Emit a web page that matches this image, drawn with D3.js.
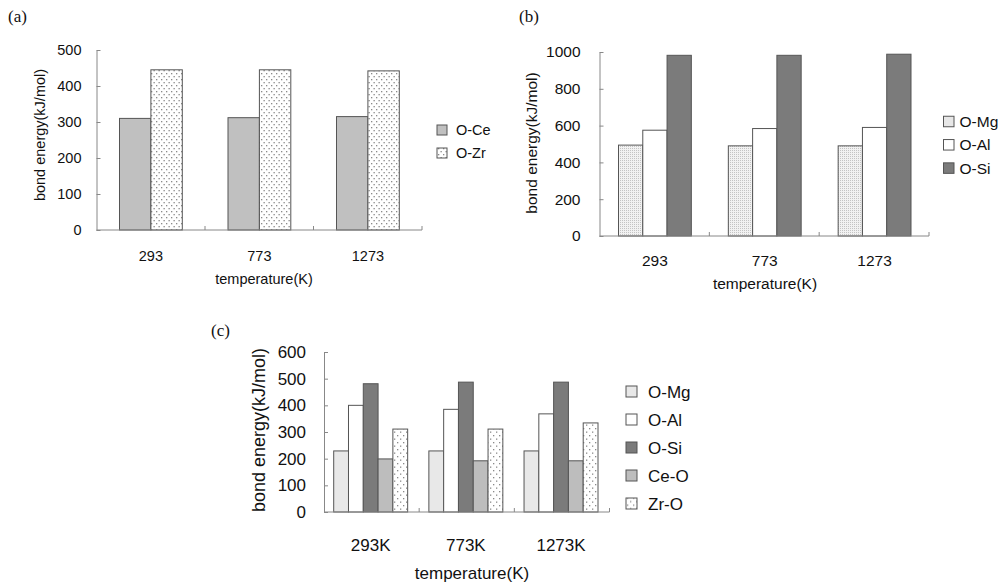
<!DOCTYPE html>
<html>
<head>
<meta charset="utf-8">
<script src="https://cdn.jsdelivr.net/npm/d3@7"></script>
<style>
  body { margin: 0; background: #fff; }
  svg { display: block; }
  text { font-family: "Liberation Sans", Arial, sans-serif; fill: #111; }
  .title { font-family: "Liberation Serif", "DejaVu Serif", serif; }
</style>
</head>
<body>
<svg id="chart" width="1000" height="586"></svg>
<script>
// panel (a)
var catsA = ["293", "773", "1273"];
var seriesA = ["O-Ce", "O-Zr"];
var oCeA = [310, 312, 315];
var oZrA = [445, 445, 442];
var ticksA = [0, 100, 200, 300, 400, 500];

// panel (b)
var catsB = ["293", "773", "1273"];
var seriesB = ["O-Mg", "O-Al", "O-Si"];
var oMgB = [494, 490, 490];
var oAlB = [575, 584, 590];
var oSiB = [982, 982, 988];
var ticksB = [0, 200, 400, 600, 800, 1000];

// panel (c)
var catsC = ["293K", "773K", "1273K"];
var seriesC = ["O-Mg", "O-Al", "O-Si", "Ce-O", "Zr-O"];
var oMgC = [229, 229, 229];
var oAlC = [400, 385, 368];
var oSiC = [481, 487, 487];
var ceOC = [199, 192, 192];
var zrOC = [311, 311, 334];
var ticksC = [0, 100, 200, 300, 400, 500, 600];

var svg = d3.select("#chart");
var defs = svg.append("defs");

// dotted pattern (Zr)
var dots = defs.append("pattern").attr("id", "dots")
    .attr("patternUnits", "userSpaceOnUse").attr("width", 5).attr("height", 6);
dots.append("rect").attr("width", 5).attr("height", 6).attr("fill", "#fff");
dots.append("rect").attr("x", 1).attr("y", 1).attr("width", 1.3).attr("height", 1.3).attr("fill", "#8a8a8a");
dots.append("rect").attr("x", 3.5).attr("y", 4).attr("width", 1.3).attr("height", 1.3).attr("fill", "#8a8a8a");

var dotsC = defs.append("pattern").attr("id", "dotsC")
    .attr("patternUnits", "userSpaceOnUse").attr("width", 6).attr("height", 7);
dotsC.append("rect").attr("width", 6).attr("height", 7).attr("fill", "#fff");
dotsC.append("rect").attr("x", 1).attr("y", 1).attr("width", 1.3).attr("height", 1.3).attr("fill", "#8a8a8a");
dotsC.append("rect").attr("x", 4).attr("y", 4.5).attr("width", 1.3).attr("height", 1.3).attr("fill", "#8a8a8a");

// fine stipple (O-Mg in b)
var stip = defs.append("pattern").attr("id", "stip")
    .attr("patternUnits", "userSpaceOnUse").attr("width", 2).attr("height", 2);
stip.append("rect").attr("width", 2).attr("height", 2).attr("fill", "#f2f2f2");
stip.append("rect").attr("width", 1).attr("height", 1).attr("fill", "#c4c4c4");

function drawPanel(p) {
    var g = svg.append("g");
    var y = d3.scaleLinear().domain([0, p.max]).range([p.y0, p.y1]);
    var x0 = d3.scaleBand().domain(p.cats).range([p.xl, p.xr]);
    var x1 = d3.scaleBand().domain(p.series)
        .range([p.padL, x0.bandwidth() - p.padR]);

    // bars
    p.series.forEach(function(s, si) {
        g.selectAll(null)
            .data(p.values[si])
            .enter()
            .append("rect")
            .attr("x", function(d, i) { return x0(p.cats[i]) + x1(s); })
            .attr("y", function(d) { return y(d); })
            .attr("width", x1.bandwidth())
            .attr("height", function(d) { return y(0) - y(d); })
            .attr("fill", p.fills[si])
            .attr("stroke", "#555")
            .attr("stroke-width", 1);
    });

    // y axis
    var ya = g.append("g")
        .attr("transform", "translate(" + p.xl + ",0)")
        .call(d3.axisLeft(y).tickValues(p.ticks).tickFormat(d3.format("d"))
            .tickSizeInner(-4).tickSizeOuter(0).tickPadding(p.tickPad));
    ya.select(".domain").attr("stroke", "#888");
    ya.selectAll(".tick line").attr("stroke", "#888");
    ya.selectAll("text").attr("font-size", p.fs).attr("fill", "#111")
        .attr("font-family", "Liberation Sans, Arial, sans-serif");

    // x axis line + inward ticks at group boundaries
    g.append("line")
        .attr("x1", p.xl).attr("x2", p.xr)
        .attr("y1", y(0)).attr("y2", y(0))
        .attr("stroke", "#888");
    g.selectAll(null)
        .data(p.cats)
        .enter()
        .append("line")
        .attr("x1", function(d) { return x0(d) + x0.bandwidth(); })
        .attr("x2", function(d) { return x0(d) + x0.bandwidth(); })
        .attr("y1", y(0)).attr("y2", y(0) - 4)
        .attr("stroke", "#888");

    // category labels
    g.selectAll(null)
        .data(p.cats)
        .enter()
        .append("text")
        .attr("x", function(d) { return x0(d) + p.padL + (x0.bandwidth() - p.padL - p.padR) / 2; })
        .attr("y", p.catY)
        .attr("text-anchor", "middle")
        .attr("font-size", p.fs)
        .text(function(d) { return d; });

    g.append("text")
        .attr("x", p.xTitleX).attr("y", p.xTitleY)
        .attr("text-anchor", "middle")
        .attr("font-size", p.fs)
        .text("temperature(K)");

    g.append("text")
        .attr("transform", "translate(" + p.yTitleX + "," + p.yTitleY + ") rotate(-90)")
        .attr("text-anchor", "middle")
        .attr("font-size", p.yfs)
        .text("bond energy(kJ/mol)");

    g.append("text").attr("class", "title")
        .attr("x", p.labX).attr("y", p.labY)
        .attr("font-size", 17)
        .text(p.label);

    // legend
    var lg = g.selectAll(null)
        .data(p.series)
        .enter()
        .append("g")
        .attr("transform", function(d, i) {
            return "translate(" + p.legX + "," + (p.legY + i * p.legStep) + ")";
        });
    lg.append("rect")
        .attr("x", 0).attr("y", -p.legBox / 2)
        .attr("width", p.legBox).attr("height", p.legBox)
        .attr("fill", function(d, i) { return p.fills[i]; })
        .attr("stroke", "#555");
    lg.append("text")
        .attr("x", p.legTextX)
        .attr("y", p.fs * 0.36)
        .attr("font-size", p.fs)
        .text(function(d) { return d; });
}

drawPanel({
    label: "(a)", labX: 8, labY: 22,
    cats: catsA, series: seriesA, values: [oCeA, oZrA],
    fills: ["#c0c0c0", "url(#dots)"],
    max: 500, ticks: ticksA, y0: 230, y1: 50,
    xl: 96.5, xr: 422, padL: 23, padR: 22.7, tickPad: 15,
    fs: 14.5, yfs: 14.5, catY: 261,
    xTitleX: 264, xTitleY: 284,
    yTitleX: 44.5, yTitleY: 135,
    legX: 437, legY: 130, legStep: 23, legBox: 10, legTextX: 19
});

drawPanel({
    label: "(b)", labX: 519, labY: 22,
    cats: catsB, series: seriesB, values: [oMgB, oAlB, oSiB],
    fills: ["url(#stip)", "#ffffff", "#7b7b7b"],
    max: 1000, ticks: ticksB, y0: 236, y1: 52,
    xl: 599.5, xr: 929, padL: 19, padR: 18, tickPad: 19,
    fs: 15.5, yfs: 15.5, catY: 265.5,
    xTitleX: 765, xTitleY: 289,
    yTitleX: 536.5, yTitleY: 143,
    legX: 943.5, legY: 121.5, legStep: 23.3, legBox: 10.5, legTextX: 16
});

drawPanel({
    label: "(c)", labX: 211, labY: 336,
    cats: catsC, series: seriesC, values: [oMgC, oAlC, oSiC, ceOC, zrOC],
    fills: ["#e8e8e8", "#ffffff", "#7b7b7b", "#bdbdbd", "url(#dotsC)"],
    max: 600, ticks: ticksC, y0: 512, y1: 352,
    xl: 324, xr: 609.5, padL: 9.7, padR: 11.5, tickPad: 18,
    fs: 17, yfs: 18, catY: 551,
    xTitleX: 472, xTitleY: 579,
    yTitleX: 265, yTitleY: 430,
    legX: 626, legY: 391.5, legStep: 28, legBox: 11, legTextX: 22
});
</script>
</body>
</html>
